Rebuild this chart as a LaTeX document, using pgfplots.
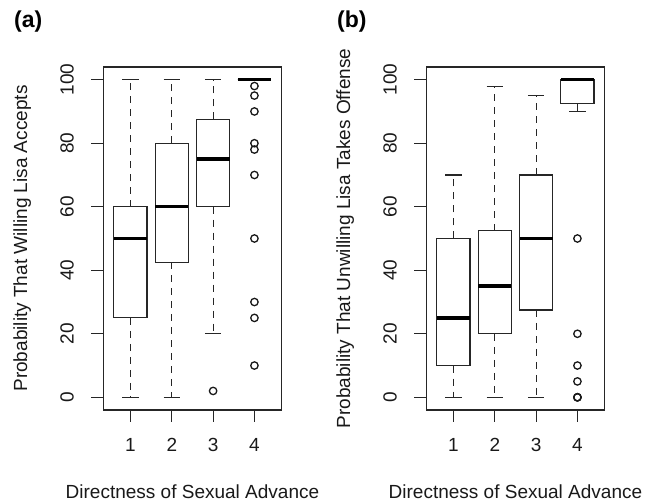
\documentclass[border=0pt]{standalone}
\usepackage{pgfplots}
\pgfplotsset{compat=1.18}
\usepgfplotslibrary{statistics}
\usepackage{fontspec}
\setmainfont{Liberation Sans}
\begin{document}
\begin{tikzpicture}
\path[use as bounding box] (0bp,0bp) rectangle (660bp,502bp);
\pgfplotsset{
  rbox/.style={
    scale only axis, width=178.5bp, height=343bp,
    anchor=south west,
    xmin=0.34, xmax=4.66, ymin=-4, ymax=104,
    xtick={1,2,3,4}, ytick={0,20,40,60,80,100},
    tick align=outside, major tick length=12bp,
    xtick pos=bottom, ytick pos=left,
    every tick/.style={line width=1.1bp, black!85},
    axis line style={line width=1.1bp, black!85},
    /pgf/number format/assume math mode=true,
    tick label style={font=\fontsize{19bp}{22bp}\selectfont, inner sep=0pt, black!90},
    xticklabel style={anchor=base},
    yticklabel style={rotate=90, anchor=base},
    xticklabel shift=29.7bp,
    yticklabel shift=17.7bp,
    every axis x label/.style={at={(axis description cs:0.5,-0.2566)}, anchor=base, inner sep=0pt, black!90, font=\fontsize{19bp}{22bp}\selectfont},
    every axis y label/.style={at={(axis description cs:-0.4258,0.5)}, rotate=90, anchor=base, inner sep=0pt, black!90, font=\fontsize{19bp}{22bp}\selectfont},
    xlabel={Directness of Sexual Advance},
    boxplot/draw direction=y,
    boxplot/box extend=0.8,
    boxplot/whisker extend=0.4,
    boxplot/every median/.style={line width=3.5bp, black},
    boxplot/draw/lower whisker/.code={
      \draw[dash pattern=on 7bp off 6bp] (boxplot box cs:\pgfplotsboxplotvalue{lower quartile},0.5) -- (boxplot box cs:\pgfplotsboxplotvalue{lower whisker},0.5);
      \draw (boxplot whisker cs:\pgfplotsboxplotvalue{lower whisker},0) -- (boxplot whisker cs:\pgfplotsboxplotvalue{lower whisker},1);
    },
    boxplot/draw/upper whisker/.code={
      \draw[dash pattern=on 7bp off 6bp] (boxplot box cs:\pgfplotsboxplotvalue{upper quartile},0.5) -- (boxplot box cs:\pgfplotsboxplotvalue{upper whisker},0.5);
      \draw (boxplot whisker cs:\pgfplotsboxplotvalue{upper whisker},0) -- (boxplot whisker cs:\pgfplotsboxplotvalue{upper whisker},1);
    },
  },
  bx/.style={black!85, line width=1.1bp, mark=o, mark size=3.7bp, mark options={solid, line width=1.3bp, black!90}},
}
% ---------- panel (a) ----------
\begin{axis}[rbox, at={(103.2bp,92bp)}, ylabel={Probability That Willing Lisa Accepts}]
\addplot[bx, boxplot prepared={draw position=1, lower whisker=0, lower quartile=25, median=50, upper quartile=60, upper whisker=100}] coordinates {};
\addplot[bx, boxplot prepared={draw position=2, lower whisker=0, lower quartile=42.5, median=60, upper quartile=80, upper whisker=100}] coordinates {};
\addplot[bx, boxplot prepared={draw position=3, lower whisker=20, lower quartile=60, median=75, upper quartile=87.5, upper whisker=100}] coordinates {(0,2)};
\addplot[bx, boxplot prepared={draw position=4, lower whisker=100, lower quartile=100, median=100, upper quartile=100, upper whisker=100}] coordinates {(0,98) (0,95) (0,90) (0,80) (0,78) (0,70) (0,50) (0,30) (0,25) (0,10)};
\end{axis}
% ---------- panel (b) ----------
\begin{axis}[rbox, at={(426.2bp,92bp)}, ylabel={Probability That Unwilling Lisa Takes Offense}]
\addplot[bx, boxplot prepared={draw position=1, lower whisker=0, lower quartile=10, median=25, upper quartile=50, upper whisker=70}] coordinates {};
\addplot[bx, boxplot prepared={draw position=2, lower whisker=0, lower quartile=20, median=35, upper quartile=52.5, upper whisker=98}] coordinates {};
\addplot[bx, boxplot prepared={draw position=3, lower whisker=0, lower quartile=27.5, median=50, upper quartile=70, upper whisker=95}] coordinates {};
\addplot[bx, boxplot prepared={draw position=4, lower whisker=90, lower quartile=92.5, median=100, upper quartile=100, upper whisker=100}] coordinates {(0,50) (0,20) (0,10) (0,5) (0,0) (0,0) (0,0)};
\end{axis}
\node[anchor=base west, inner sep=0pt, font=\bfseries\fontsize{23bp}{26bp}\selectfont] at (14bp,474bp) {(a)};
\node[anchor=base west, inner sep=0pt, font=\bfseries\fontsize{23bp}{26bp}\selectfont] at (337bp,474bp) {(b)};
\end{tikzpicture}
\end{document}
